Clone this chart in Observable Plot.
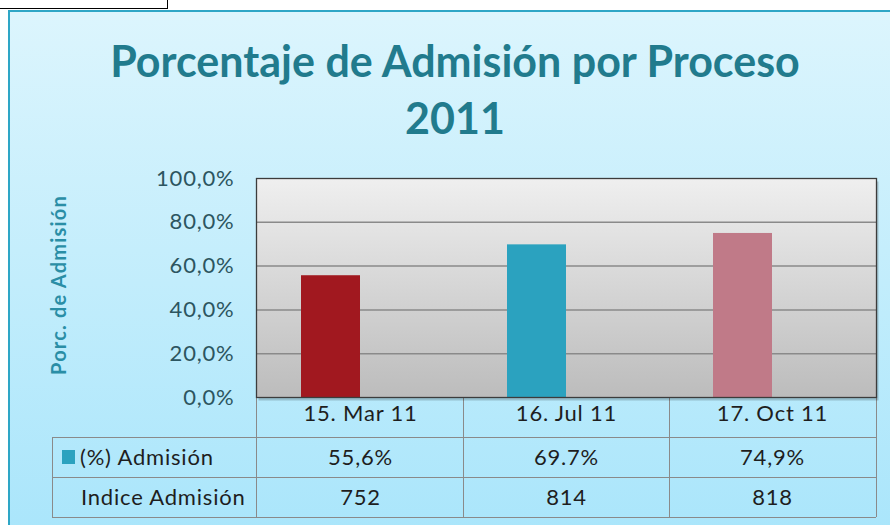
<!DOCTYPE html>
<html><head><meta charset="utf-8">
<script src="https://cdn.jsdelivr.net/npm/d3@7"></script>
<script src="https://cdn.jsdelivr.net/npm/@observablehq/plot@0.6"></script>
<style>
body{margin:0;background:#fff;}
#wrap{position:relative;width:890px;height:525px;overflow:hidden;background:#fff;font-family:Lato,"Open Sans",sans-serif;}
#frame{position:absolute;left:8px;top:10px;width:900px;height:540px;border:2px solid #2ea6c6;background:linear-gradient(#dcf5fd,#a8e5fb);}
#tab{position:absolute;left:0;top:0;width:167px;height:8px;border-right:1px solid #000;border-bottom:1px solid #000;background:#fff;}
#title{position:absolute;left:0;width:910px;top:32px;text-align:center;color:#217b8d;font-weight:bold;font-size:43px;line-height:57px;}
#ylab{position:absolute;left:58px;top:285px;transform:translate(-50%,-50%) rotate(-90deg);color:#2a8ea6;font-size:20px;font-weight:bold;letter-spacing:1.2px;white-space:nowrap;}
.cell{position:absolute;font-size:22px;letter-spacing:0.8px;color:#1e1e1e;white-space:nowrap;}
.hl{position:absolute;height:0;border-top:1px solid #8a8a8a;}
.vl{position:absolute;width:0;border-left:1px solid #8a8a8a;}
#plot{position:absolute;left:0;top:0;}
</style></head>
<body>
<div id="wrap">
  <div id="frame"></div>
  <div id="tab"></div>
  <div id="title"></div>
  <div id="ylab"></div>
  <div id="table"></div>
  <div id="plot"></div>
</div>
<script>
const titleLines = ["Porcentaje de Admisión por Proceso", "2011"];
const yLabel = "Porc. de Admisión";
const categories = ["15. Mar 11", "16. Jul 11", "17. Oct 11"];
const admision = [0.556, 0.697, 0.749];
const admisionLabels = ["55,6%", "69.7%", "74,9%"];
const indice = [752, 814, 818];
const rowLabels = ["(%) Admisión", "Indice Admisión"];
const barColors = ["#a1181f", "#2ba2bf", "#c07a88"];
const yTicks = [0, 0.2, 0.4, 0.6, 0.8, 1.0];

document.getElementById("title").innerHTML = titleLines.join("<br>");
document.getElementById("ylab").textContent = yLabel;

const data = categories.map((c, i) => ({cat: c, v: admision[i], lab: admisionLabels[i], idx: indice[i], color: barColors[i]}));

const W = 890, H = 525, mL = 256, mR = 14, mT = 178, mB = 128;
const fmt = d => (d * 100).toFixed(1).replace(".", ",") + "%";

const plot = Plot.plot({
  width: W, height: H,
  marginLeft: mL, marginRight: mR, marginTop: mT, marginBottom: mB,
  style: {background: "transparent", fontFamily: "Lato, 'Open Sans', sans-serif", fontSize: "22px", letterSpacing: "0.8px", overflow: "visible"},
  x: {domain: categories, padding: 0, label: null},
  y: {domain: [0, 1], label: null},
  marks: [
    Plot.frame({fill: "rgba(0,0,0,0.18)", dx: 2, dy: 3}),
    Plot.frame({fill: "url(#plotbg)"}),
    Plot.ruleY(yTicks.filter(t => t > 0 && t < 1), {stroke: "#8a8a8a", strokeWidth: 1.5}),
    Plot.barY(data, {x: "cat", y: "v", fill: "color", insetLeft: 44, insetRight: 103}),
    Plot.frame({stroke: "#3c3c3c", strokeWidth: 1.3}),
    Plot.axisY({ticks: yTicks, tickFormat: fmt, tickSize: 0, tickPadding: 22, fill: "#2c5560", fontSize: 22, label: null}),
    Plot.axisX({tickSize: 0, tickPadding: 8, fill: "#1e1e1e", fontSize: 22, label: null}),
    Plot.text(data, {x: "cat", y: () => 0, text: "lab", dy: 60, fill: "#1e1e1e", fontSize: 22}),
    Plot.text(data, {x: "cat", y: () => 0, text: d => String(d.idx), dy: 100, fill: "#1e1e1e", fontSize: 22})
  ]
});
const defs = d3.select(plot).insert("defs", ":first-child");
const g = defs.append("linearGradient").attr("id", "plotbg").attr("x1", 0).attr("y1", 0).attr("x2", 0).attr("y2", 1);
g.append("stop").attr("offset", "0%").attr("stop-color", "#efefef");
g.append("stop").attr("offset", "100%").attr("stop-color", "#bcbcbc");
document.getElementById("plot").appendChild(plot);

// table grid
const tbl = document.getElementById("table");
const colX = [52, mL];
const step = (W - mL - mR) / categories.length;
categories.forEach((c, i) => colX.push(mL + step * (i + 1)));
const rowY = [397, 437, 477, 517];
function hl(x1, x2, y) { const d = document.createElement("div"); d.className = "hl"; d.style.left = x1 + "px"; d.style.width = (x2 - x1) + "px"; d.style.top = y + "px"; tbl.appendChild(d); }
function vl(x, y1, y2) { const d = document.createElement("div"); d.className = "vl"; d.style.left = x + "px"; d.style.top = y1 + "px"; d.style.height = (y2 - y1) + "px"; tbl.appendChild(d); }
hl(colX[0], colX[colX.length - 1], rowY[1]);
hl(colX[0], colX[colX.length - 1], rowY[2]);
hl(colX[0], colX[colX.length - 1], rowY[3]);
vl(colX[0], rowY[1], rowY[3]);
for (let i = 1; i < colX.length; i++) vl(colX[i], rowY[0], rowY[3]);
// row labels
rowLabels.forEach((t, i) => {
  const d = document.createElement("div"); d.className = "cell";
  d.style.left = (i === 0 ? 80 : 81) + "px";
  d.style.top = (rowY[i + 1] + 6) + "px";
  d.textContent = t; tbl.appendChild(d);
});
const key = document.createElement("div");
key.style.cssText = "position:absolute;left:62px;top:450px;width:13px;height:14px;background:" + barColors[1] + ";";
tbl.appendChild(key);
</script>
</body></html>
